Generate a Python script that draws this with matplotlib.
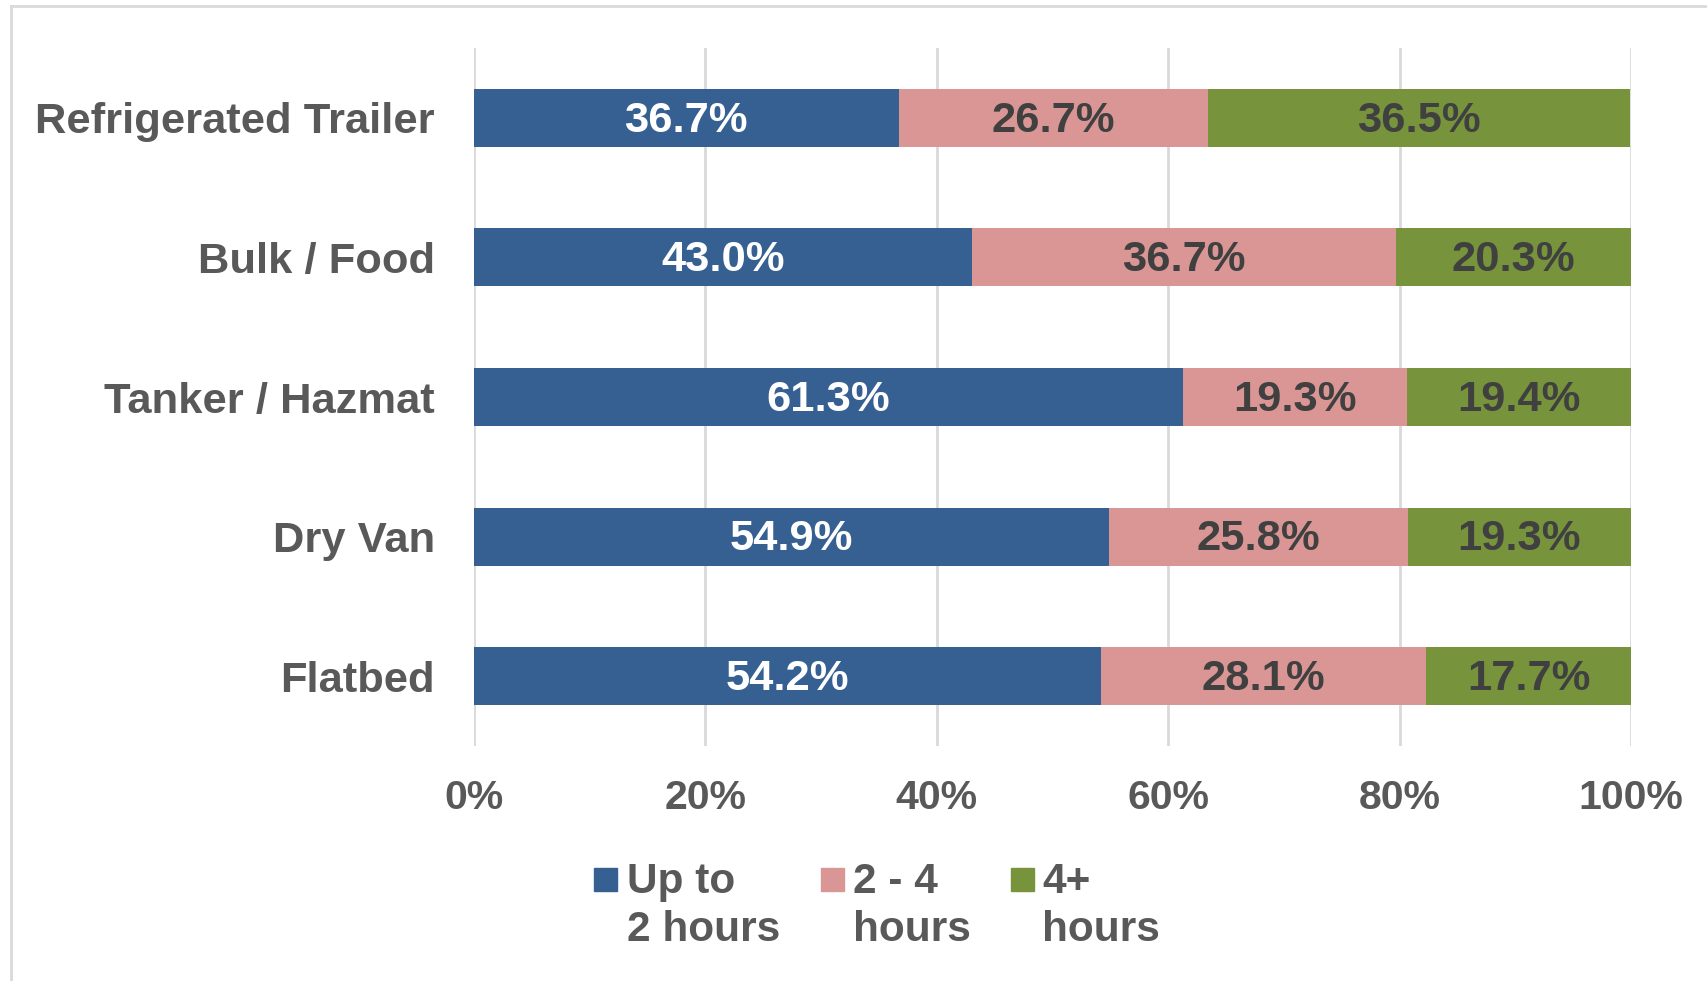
import matplotlib
matplotlib.use("Agg")
import matplotlib.pyplot as plt
from matplotlib.patches import Rectangle
from matplotlib.lines import Line2D
import numpy as np

categories = ["Refrigerated Trailer", "Bulk / Food", "Tanker / Hazmat", "Dry Van", "Flatbed"]
series_names = ["Up to\n2 hours", "2 - 4\nhours", "4+\nhours"]
up_to_2 = [36.7, 43.0, 61.3, 54.9, 54.2]
two_to_4 = [26.7, 36.7, 19.3, 25.8, 28.1]
four_plus = [36.5, 20.3, 19.4, 19.3, 17.7]
x_ticks = [0, 20, 40, 60, 80, 100]
x_tick_labels = ["0%", "20%", "40%", "60%", "80%", "100%"]

colors = ["#376092", "#DA9694", "#77933C"]
label_colors = ["white", "#404040", "#404040"]
text_gray = "#595959"
grid_gray = "#D9D9D9"

plt.rcParams['font.family'] = ['Liberation Sans', 'DejaVu Sans']

W, H = 1708, 981
fig = plt.figure(figsize=(W / 100, H / 100), dpi=100)
ax = fig.add_axes([474 / W, 1 - 746 / H, (1631 - 474) / W, (746 - 48) / H])

y = np.arange(len(categories))
left = np.zeros(len(categories))
series = [up_to_2, two_to_4, four_plus]
for vals, col, lc in zip(series, colors, label_colors):
    vals = np.array(vals)
    bars = ax.barh(y, vals, left=left, height=0.415, color=col, edgecolor="none", zorder=3)
    for b, v in zip(bars, vals):
        ax.text(b.get_x() + b.get_width() / 2, b.get_y() + b.get_height() / 2 + 0.02,
                f"{v:.1f}%", ha="center", va="center", color=lc,
                fontsize=31.3, fontweight="bold", zorder=4)
    left = left + vals

ax.set_xlim(0, 100)
ax.set_ylim(len(categories) - 0.5, -0.5)
ax.set_yticks(y)
ax.set_yticklabels(categories, fontsize=31.3, fontweight="bold", color=text_gray)
ax.set_xticks(x_ticks)
ax.set_xticklabels(x_tick_labels, fontsize=29.5, fontweight="bold", color=text_gray)
ax.tick_params(axis="y", length=0, pad=28)
ax.tick_params(axis="x", length=0, pad=24)
ax.grid(axis="x", color=grid_gray, linewidth=2, zorder=0)
for s in ax.spines.values():
    s.set_visible(False)

# frame around the chart (left and top)
fig.add_artist(Line2D([11 / W, 11 / W], [0, 1 - 5.5 / H], transform=fig.transFigure,
                      color=grid_gray, linewidth=2))
fig.add_artist(Line2D([11 / W, 1], [1 - 5.5 / H, 1 - 5.5 / H], transform=fig.transFigure,
                      color=grid_gray, linewidth=2))

# legend (manual, markers aligned with first line)
marker_x = [594, 821, 1011]
text_x = [627, 853, 1042]
for name, col, mx, tx in zip(series_names, colors, marker_x, text_x):
    fig.add_artist(Rectangle((mx / W, 1 - 891 / H), 23 / W, 23 / H,
                             transform=fig.transFigure, color=col))
    fig.text(tx / W, 1 - 862 / H, name, ha="left", va="top", fontsize=30.5,
             fontweight="bold", color=text_gray, linespacing=1.27)

fig.savefig("out.png", dpi=100)
